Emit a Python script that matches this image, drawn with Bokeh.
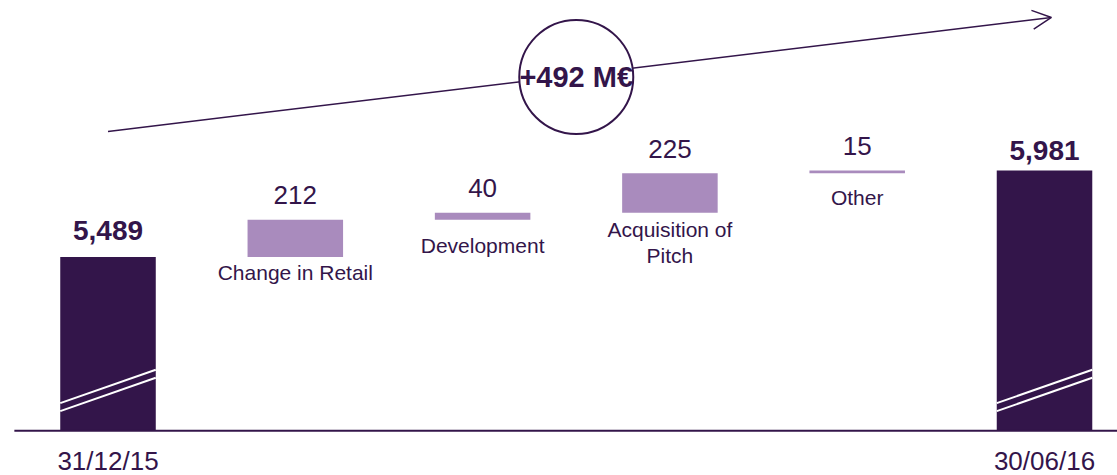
from bokeh.plotting import figure
from bokeh.models import Range1d, Arrow, OpenHead
from bokeh.core.properties import value
from bokeh.embed import file_html
from bokeh.resources import INLINE

# ---------------- data ----------------
categories = ["31/12/15", "Change in Retail", "Development", "Acquisition of\nPitch", "Other", "30/06/16"]
start_value = 5489
end_value = 5981
step_values = [212, 40, 225, 15]
step_names = ["Change in Retail", "Development", "Acquisition of\nPitch", "Other"]
total_labels = ["5,489", "5,981"]
date_labels = ["31/12/15", "30/06/16"]
axis_break_base = 4500   # value at which the broken axis is drawn

# ---------------- style / layout ----------------
DARK = "#33154A"
LIGHT = "#A98BBD"
FONT = value("Liberation Sans")
W, H = 1117, 475
PPU = 0.17579                # pixels per value unit
Y1 = 6948
Y0 = Y1 - H / PPU
X0 = -0.574
X1 = X0 + W / 187.3
BAR_W = 0.51

def px(p_):
    return p_ / PPU

n = len(categories)
idx = list(range(n))
total_idx = [0, n - 1]
step_idx = idx[1:-1]

# waterfall geometry from the data
step_bottom, step_top = [], []
cum = start_value
for d in step_values:
    step_bottom.append(cum)
    cum += d
    step_top.append(cum)
total_tops = [start_value, end_value]

p = figure(width=W, height=H, x_range=Range1d(X0, X1), y_range=Range1d(Y0, Y1),
           output_backend="svg", toolbar_location=None, min_border=0,
           x_axis_location=None, y_axis_location=None)
p.grid.visible = False
p.outline_line_color = None
p.background_fill_color = "white"
p.border_fill_color = "white"

# total bars
p.vbar(x=total_idx, bottom=axis_break_base, top=total_tops, width=BAR_W,
       fill_color=DARK, line_color=None)
# step bars
p.vbar(x=step_idx, bottom=step_bottom, top=step_top, width=BAR_W,
       fill_color=LIGHT, line_color=None)

# axis break marks on total bars
for off_l, off_r in [(27.7, 61.1), (19.7, 53.1)]:
    p.segment(x0=[i - BAR_W / 2 for i in total_idx], y0=[axis_break_base + px(off_l)] * 2,
              x1=[i + BAR_W / 2 for i in total_idx], y1=[axis_break_base + px(off_r)] * 2,
              line_color="white", line_width=2)

# baseline
p.segment(x0=[-0.5], y0=[axis_break_base], x1=[X1], y1=[axis_break_base],
          line_color=DARK, line_width=2)

# total value labels
total_off = [26.6, 19.5]
p.text(x=total_idx, y=[t + px(o) for t, o in zip(total_tops, total_off)], text=total_labels,
       text_font=FONT, text_font_size="28px", text_font_style="bold",
       text_color=DARK, text_align="center", text_baseline="middle")

# step value labels
p.text(x=step_idx, y=[t + px(24.5) for t in step_top], text=[str(v) for v in step_values],
       text_font=FONT, text_font_size="26px", text_color=DARK,
       text_align="center", text_baseline="middle")

# step names below bars
name_off = [15.5, 25.3, 30.0, 24.5]
p.text(x=step_idx, y=[b - px(o) for b, o in zip(step_bottom, name_off)], text=step_names,
       text_font=FONT, text_font_size="21px", text_color=DARK,
       text_align="center", text_baseline="middle", text_line_height=1.15)

# date labels under axis
p.text(x=total_idx, y=[axis_break_base - px(29.8)] * 2, text=date_labels,
       text_font=FONT, text_font_size="26px", text_color=DARK,
       text_align="center", text_baseline="middle")

# trend arrow
arrow = Arrow(end=OpenHead(size=19, line_color=DARK, line_width=1.5),
              x_start=0, y_start=start_value + px(125.5),
              x_end=(n - 1) + 0.037, y_end=end_value + px(153),
              line_color=DARK, line_width=1.5)
p.add_layout(arrow)

# circle with total change
cx = sum(idx) / n
cy = end_value + px(93.6)
p.scatter(x=[cx], y=[cy], size=114, marker="circle", fill_color="white",
          line_color=DARK, line_width=2, level="overlay")
p.text(x=[cx], y=[cy], text=[f"+{end_value - start_value} M€"],
       text_font=FONT, text_font_size="29px", text_font_style="bold",
       text_color=DARK, text_align="center", text_baseline="middle", level="overlay")

open("out.html", "w").write(file_html(p, INLINE))
